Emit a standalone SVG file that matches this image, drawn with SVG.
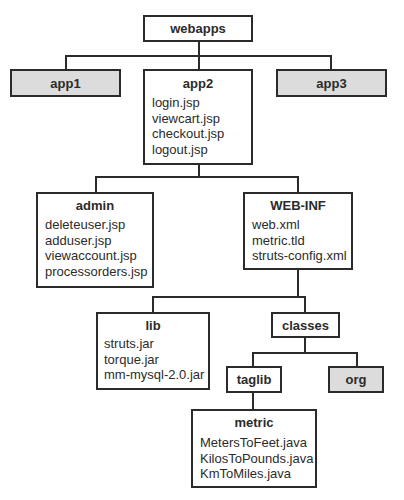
<svg xmlns="http://www.w3.org/2000/svg" width="404" height="500" viewBox="0 0 404 500">
<style>
.box{fill:#fff;stroke:#2b2b2b;stroke-width:2}
.gray{fill:#dcdcdc}
.t{font-family:"Liberation Sans",Arial,sans-serif;font-size:13px;font-weight:bold;fill:#2b2b2b;text-anchor:middle}
.f{font-family:"Liberation Sans",Arial,sans-serif;font-size:13px;fill:#2b2b2b}
.c{fill:none;stroke:#2b2b2b;stroke-width:2}
</style>
<rect width="404" height="500" fill="#fff"/>
<g id="connectors">
<path class="c" d="M199,41V56M66,70V56H331V70M199,56V70"/>
<path class="c" d="M199,164V177M96,193V177H298V193"/>
<path class="c" d="M298,269V297M153,313V297H305V313"/>
<path class="c" d="M305,337V353M253,367V353H357V367"/>
<path class="c" d="M253,392V410"/>
</g>
<g id="webapps"><rect class="box" x="144" y="16" width="108" height="25"/><text class="t" x="198" y="33">webapps</text></g>
<g id="app1"><rect class="box gray" x="11" y="70" width="109" height="26"/><text class="t" x="65.5" y="88">app1</text></g>
<g id="app3"><rect class="box gray" x="277" y="70" width="109" height="26"/><text class="t" x="331.5" y="88">app3</text></g>
<g id="app2"><rect class="box" x="144" y="70" width="108" height="94"/><text class="t" x="198" y="88">app2</text>
<text class="f" x="152" y="107">login.jsp</text><text class="f" x="152" y="122.5">viewcart.jsp</text><text class="f" x="152" y="138">checkout.jsp</text><text class="f" x="152" y="153.5">logout.jsp</text></g>
<g id="admin"><rect class="box" x="37" y="193" width="116" height="94"/><text class="t" x="95" y="210">admin</text>
<text class="f" x="45" y="229">deleteuser.jsp</text><text class="f" x="45" y="244.5">adduser.jsp</text><text class="f" x="45" y="260">viewaccount.jsp</text><text class="f" x="45" y="275.5">processorders.jsp</text></g>
<g id="web-inf"><rect class="box" x="244" y="193" width="108" height="76"/><text class="t" x="298" y="210">WEB-INF</text>
<text class="f" x="252" y="229">web.xml</text><text class="f" x="252" y="244.5">metric.tld</text><text class="f" x="252" y="260">struts-config.xml</text></g>
<g id="lib"><rect class="box" x="97" y="313" width="112" height="76"/><text class="t" x="153" y="330">lib</text>
<text class="f" x="104" y="348">struts.jar</text><text class="f" x="104" y="363.5">torque.jar</text><text class="f" x="104" y="379">mm-mysql-2.0.jar</text></g>
<g id="classes"><rect class="box" x="272" y="313" width="67" height="24"/><text class="t" x="305.5" y="330">classes</text></g>
<g id="taglib"><rect class="box" x="227" y="367" width="54" height="25"/><text class="t" x="254" y="384">taglib</text></g>
<g id="org"><rect class="box gray" x="329" y="367" width="54" height="25"/><text class="t" x="356" y="384">org</text></g>
<g id="metric"><rect class="box" x="192" y="410" width="124" height="77"/><text class="t" x="254" y="427">metric</text>
<text class="f" x="200" y="447">MetersToFeet.java</text><text class="f" x="200" y="462.5">KilosToPounds.java</text><text class="f" x="200" y="478">KmToMiles.java</text></g>
</svg>
